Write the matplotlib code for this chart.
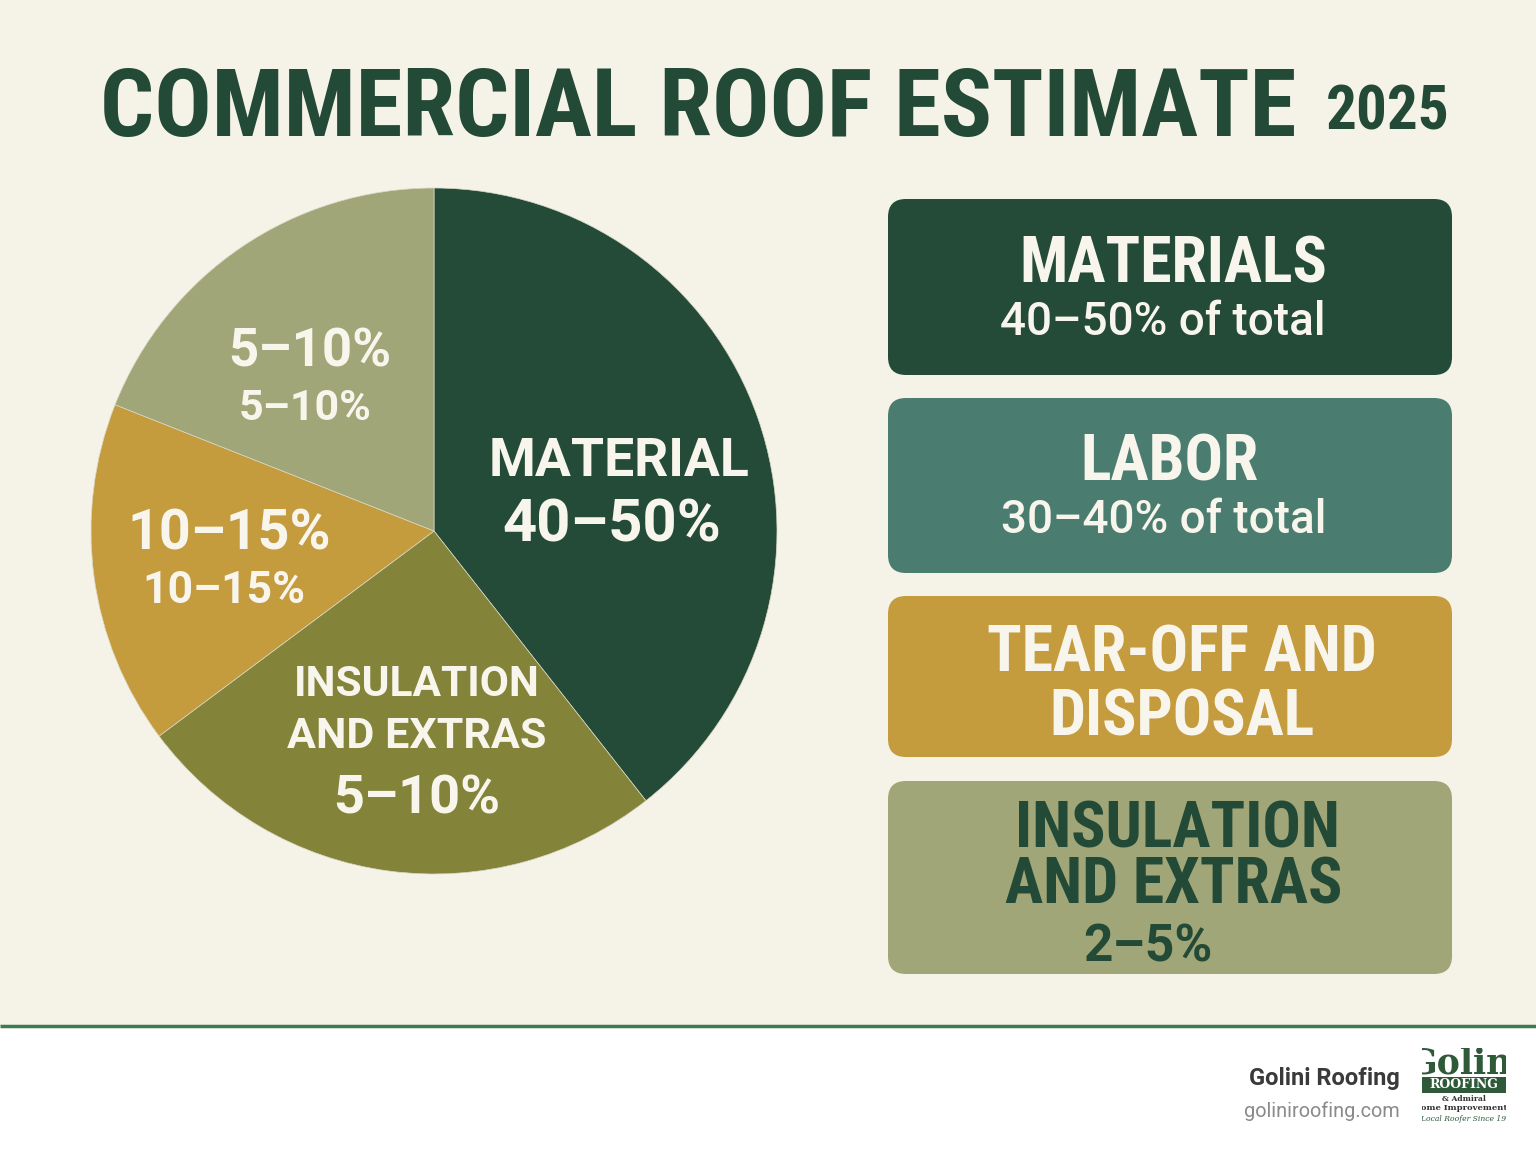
import matplotlib
matplotlib.use("Agg")
import matplotlib.pyplot as plt
import matplotlib.font_manager as fm
from matplotlib.patches import FancyBboxPatch, Rectangle

# ---------------- data ----------------
title_main = "COMMERCIAL ROOF ESTIMATE"
title_year = "2025"
slice_names = ["Material", "Insulation and extras", "Tear-off and disposal", "Labor"]
slice_shares = [39.4, 25.4, 16.2, 19.0]
slice_colors = ["#234B37", "#83843A", "#C49B3D", "#A0A677"]
box_titles = ["MATERIALS", "LABOR", "TEAR-OFF AND\nDISPOSAL", "INSULATION\nAND EXTRAS"]
box_subs = ["40–50% of total", "30–40% of total", "", "2–5%"]
box_colors = ["#234B37", "#4A7D70", "#C49B3D", "#A0A677"]
brand_name = "Golini Roofing"
brand_url = "goliniroofing.com"

BG = "#F5F2E7"
CREAM = "#F8F5EC"
DARK = "#234A36"

names = {f.name for f in fm.fontManager.ttflist}
NARROW = next((n for n in ["Liberation Sans Narrow", "Roboto Condensed", "DejaVu Sans Condensed", "Roboto"] if n in names), "DejaVu Sans")
SANS = "Roboto" if "Roboto" in names else "DejaVu Sans"

W, H = 1536, 1154
fig = plt.figure(figsize=(W / 100, H / 100), dpi=100, facecolor=BG)

# ---------------- pie ----------------
cx, cy, r = 434, 531, 343
pax = fig.add_axes([(cx - r) / W, 1 - (cy + r) / H, 2 * r / W, 2 * r / H])
pax.pie(slice_shares, colors=slice_colors, startangle=90, counterclock=False,
        radius=1.0, wedgeprops=dict(edgecolor="#DAD8C6", linewidth=0.5))
pax.set_xlim(-1, 1)
pax.set_ylim(-1, 1)
pax.set_aspect("equal")
pax.axis("off")
pax.set_zorder(1)

# ---------------- overlay ----------------
ax = fig.add_axes([0, 0, 1, 1])
ax.set_xlim(0, W)
ax.set_ylim(H, 0)
ax.axis("off")
ax.set_zorder(2)

# title
ax.text(100, 110, title_main, fontfamily=NARROW, fontweight="bold", fontsize=68.5,
        color=DARK, ha="left", va="center")
ax.text(1450, 112, title_year, fontfamily=NARROW, fontweight="bold", fontsize=44,
        color=DARK, ha="right", va="center")

# pie labels
def pl(x, y, s, size):
    ax.text(x, y, s, fontfamily=SANS, fontweight="bold", fontsize=size, color=CREAM,
            ha="center", va="center")

pl(619, 461, "MATERIAL", 38.5)
pl(612, 525, "40–50%", 43)
pl(310, 352, "5–10%", 38)
pl(305, 409, "5–10%", 31)
pl(229, 534, "10–15%", 40)
pl(224, 591, "10–15%", 32)
pl(417, 684, "INSULATION", 30.5)
pl(417, 737, "AND EXTRAS", 31)
pl(417, 799, "5–10%", 39)

# boxes
boxes = [(199, 375), (398, 573), (596, 757), (781, 974)]
x0, x1 = 888, 1452
for (y0, y1), c in zip(boxes, box_colors):
    ax.add_patch(FancyBboxPatch((x0, y0), x1 - x0, y1 - y0,
                                boxstyle="round,pad=0,rounding_size=18",
                                facecolor=c, edgecolor="none"))

# box texts
ax.text(1173, 265, box_titles[0], fontfamily=NARROW, fontweight="bold", fontsize=46,
        color=CREAM, ha="center", va="center")
ax.text(1163, 322, box_subs[0], fontfamily=SANS, fontweight="medium", fontsize=33,
        color=CREAM, ha="center", va="center")
ax.text(1170, 463, box_titles[1], fontfamily=NARROW, fontweight="bold", fontsize=46,
        color=CREAM, ha="center", va="center")
ax.text(1164, 520, box_subs[1], fontfamily=SANS, fontweight="medium", fontsize=33,
        color=CREAM, ha="center", va="center")
ax.text(1182, 686, box_titles[2], fontfamily=NARROW, fontweight="bold", fontsize=46,
        color=CREAM, ha="center", va="center", linespacing=1.05)
ins_lines = box_titles[3].split("\n")
ax.text(1177, 848, ins_lines[0], fontfamily=NARROW, fontweight="bold", fontsize=46,
        color=DARK, ha="center", va="baseline")
ax.text(1174, 903, ins_lines[1], fontfamily=NARROW, fontweight="bold", fontsize=46,
        color=DARK, ha="center", va="baseline")
ax.text(1148, 961, box_subs[3], fontfamily=SANS, fontweight="bold", fontsize=37,
        color=DARK, ha="center", va="baseline")

# footer
ax.add_patch(Rectangle((0, 1026), W, H - 1026, facecolor="white", edgecolor="none"))
ax.plot([0, W], [1025.5, 1025.5], color="#3D7A4E", lw=2.5, solid_capstyle="butt")
ax.text(1400, 1078, brand_name, fontfamily=SANS, fontweight="bold", fontsize=17,
        color="#3A3A3A", ha="right", va="center")
ax.text(1400, 1111, brand_url, fontfamily=SANS, fontsize=14.3,
        color="#8A8A8A", ha="right", va="center")

# logo
lax = fig.add_axes([1422 / W, 1 - 1132 / H, 84 / W, 84 / H])
lax.set_xlim(0, 84)
lax.set_ylim(84, 0)
lax.axis("off")
lax.set_zorder(3)
LG = "#2E5A3A"
lax.text(38, 15, "Golin", fontfamily="DejaVu Serif", fontweight="bold", fontsize=25,
         color=LG, ha="center", va="center", clip_on=True)
lax.add_patch(Rectangle((0, 29), 84, 16, facecolor=LG, edgecolor="none"))
lax.text(42, 37, "ROOFING", fontfamily="DejaVu Serif", fontweight="bold", fontsize=9,
         color="white", ha="center", va="center", clip_on=True)
lax.text(42, 51, "& Admiral", fontfamily="DejaVu Serif", fontweight="bold", fontsize=5.5,
         color="#333333", ha="center", va="center", clip_on=True)
lax.text(38, 60, "Home Improvement", fontfamily="DejaVu Serif", fontweight="bold", fontsize=6,
         color="#333333", ha="center", va="center", clip_on=True)
lax.text(36, 71, "Your Local Roofer Since 1926", fontfamily="DejaVu Serif", style="italic",
         fontsize=5.5, color=LG, ha="center", va="center", clip_on=True)

fig.savefig("out.png", dpi=100, facecolor=BG)
